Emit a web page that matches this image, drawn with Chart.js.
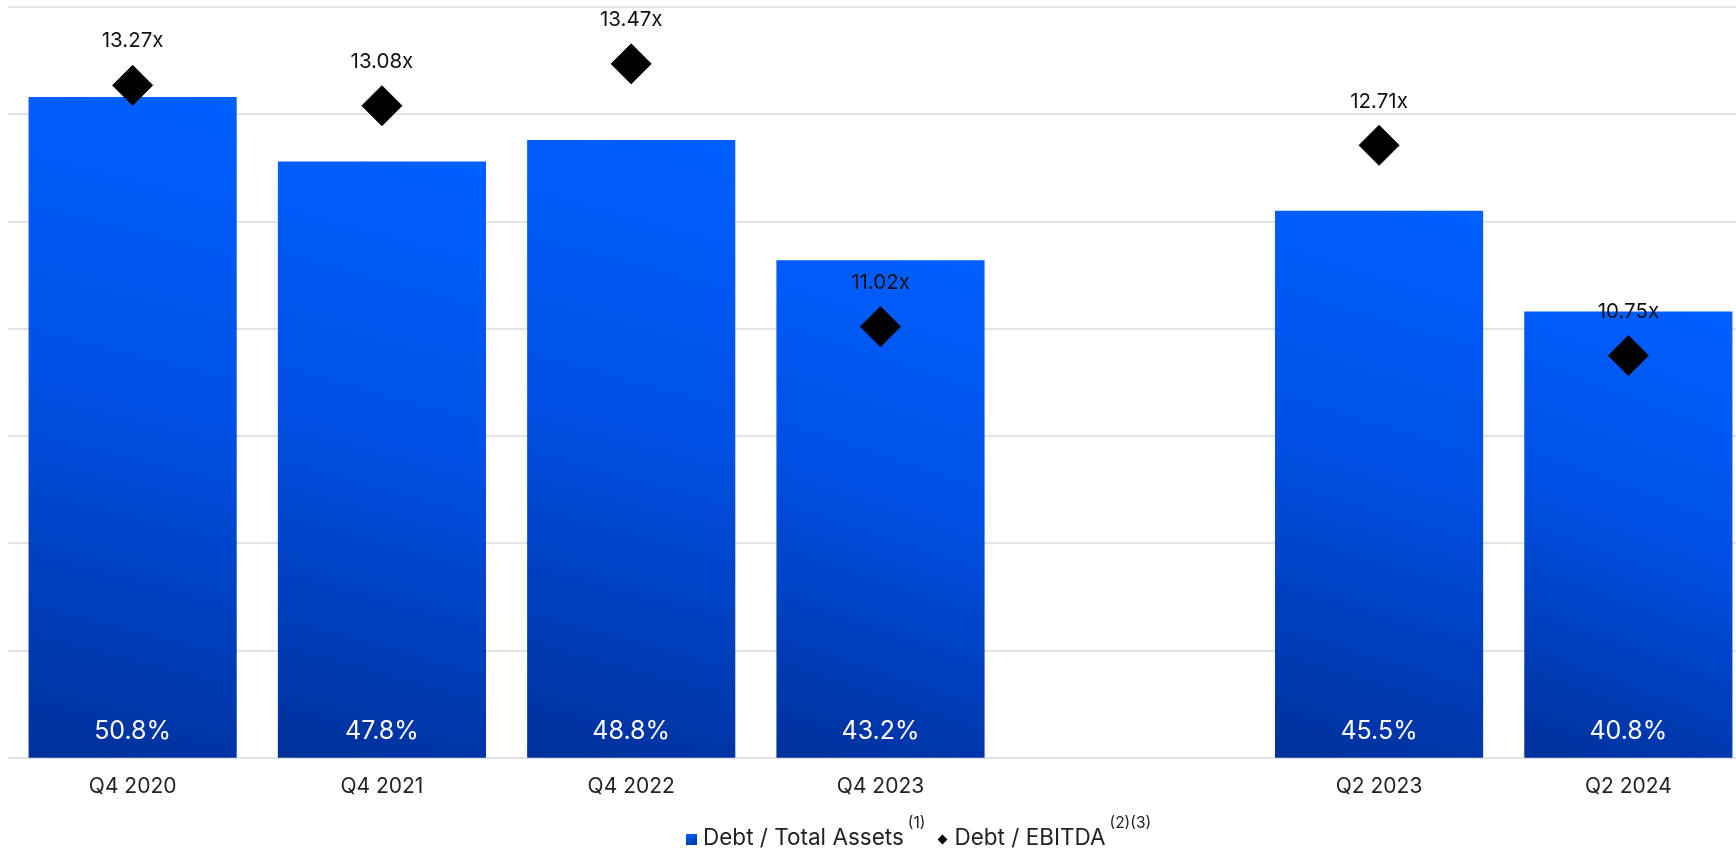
<!DOCTYPE html>
<html>
<head>
<meta charset="utf-8">
<script src="https://cdn.jsdelivr.net/npm/chart.js@4.4.1/dist/chart.umd.min.js"></script>
<style>
  body { margin: 0; overflow: hidden; background: #fff; font-family: Inter, sans-serif; }
  #wrap { position: relative; width: 1753px; height: 849px; }
  #legend { position: absolute; left: 686px; top: 821px; font-size: 22.5px; color: #222; white-space: nowrap; }
  #legend span.box { display: inline-block; width: 11px; height: 11px; background: linear-gradient(160deg, #005fff, #0036a8); margin-right: 6px; }
  #legend span.dia { display: inline-block; width: 7px; height: 7px; background: #000; transform: rotate(45deg); margin: 0 8px 2px 14px; }
  #legend sup { font-size: 15.5px; position: relative; top: -8px; margin-left: 4px; }
</style>
</head>
<body>
<div id="wrap">
  <canvas id="debtChart"></canvas>
  <div id="legend"><span class="box"></span>Debt / Total Assets<sup>(1)</sup><span class="dia"></span>Debt / EBITDA<sup>(2)(3)</sup></div>
</div>
<script>
const categories = ['Q4 2020', 'Q4 2021', 'Q4 2022', 'Q4 2023', '', 'Q2 2023', 'Q2 2024'];
const debtToAssets = [50.8, 47.8, 48.8, 43.2, null, 45.5, 40.8];
const debtToEbitda = [13.27, 13.08, 13.47, 11.02, null, 12.71, 10.75];

const FONT = 'Inter, "Open Sans", sans-serif';

// gradient per bar, bright at the top, dark at the bottom-left
function barGradient(context) {
    const chart = context.chart;
    const v = context.raw;
    if (v == null || !chart.chartArea) return '#0050e6';
    const yScale = chart.scales.y;
    const xScale = chart.scales.x;
    const top = yScale.getPixelForValue(v);
    const bottom = yScale.bottom;
    const cx = xScale.getPixelForValue(context.dataIndex);
    const half = 104;
    const g = chart.ctx.createLinearGradient(cx + half * 0.6, top, cx - half, bottom);
    g.addColorStop(0, '#005fff');
    g.addColorStop(0.45, '#0050e4');
    g.addColorStop(1, '#00309a');
    return g;
}

const valueLabels = {
    id: 'valueLabels',
    afterDatasetsDraw(chart) {
        const ctx = chart.ctx;
        ctx.save();
        ctx.textAlign = 'center';
        ctx.textBaseline = 'middle';

        // percentages at the foot of the bars
        ctx.font = '25px ' + FONT;
        ctx.fillStyle = '#ffffff';
        chart.getDatasetMeta(0).data.forEach((bar, i) => {
            if (debtToAssets[i] == null) return;
            ctx.fillText(debtToAssets[i].toFixed(1) + '%', bar.x, chart.scales.y.bottom - 26);
        });

        // multiples above the diamonds
        ctx.font = '20.5px ' + FONT;
        ctx.fillStyle = '#111111';
        chart.getDatasetMeta(1).data.forEach((pt, i) => {
            if (debtToEbitda[i] == null) return;
            ctx.fillText(debtToEbitda[i].toFixed(2) + 'x', pt.x, pt.y - 44);
        });
        ctx.restore();
    }
};

const ctx = document.getElementById('debtChart').getContext('2d');
window.debtChart = new Chart(ctx, {
    type: 'bar',
    data: {
        labels: categories,
        datasets: [{
            type: 'bar',
            label: 'Debt / Total Assets',
            data: debtToAssets,
            backgroundColor: barGradient,
            borderWidth: 0,
            barPercentage: 0.835,
            categoryPercentage: 1,
            yAxisID: 'y',
            order: 2
        }, {
            type: 'line',
            label: 'Debt / EBITDA',
            data: debtToEbitda,
            showLine: false,
            pointStyle: 'rectRot',
            pointRadius: 20,
            pointBackgroundColor: '#000',
            pointBorderColor: '#000',
            pointBorderWidth: 1,
            clip: false,
            yAxisID: 'y2',
            order: 1
        }]
    },
    options: {
        responsive: true,
        maintainAspectRatio: false,
        animation: false,
        layout: { autoPadding: false, padding: { left: 8, top: 7, right: 0, bottom: 42 } },
        plugins: {
            legend: { display: false },
            tooltip: { enabled: false }
        },
        scales: {
            x: {
                grid: { display: false },
                border: { display: false },
                ticks: {
                    color: '#222',
                    padding: 8,
                    font: { family: FONT, size: 21 }
                }
            },
            y: {
                min: 20,
                max: 55,
                ticks: { display: false, stepSize: 5 },
                grid: { color: '#e3e3e3', lineWidth: 2, drawTicks: false },
                border: { display: false }
            },
            y2: {
                display: false,
                min: 7,
                max: 14
            }
        }
    },
    plugins: [valueLabels]
});
</script>
</body>
</html>
